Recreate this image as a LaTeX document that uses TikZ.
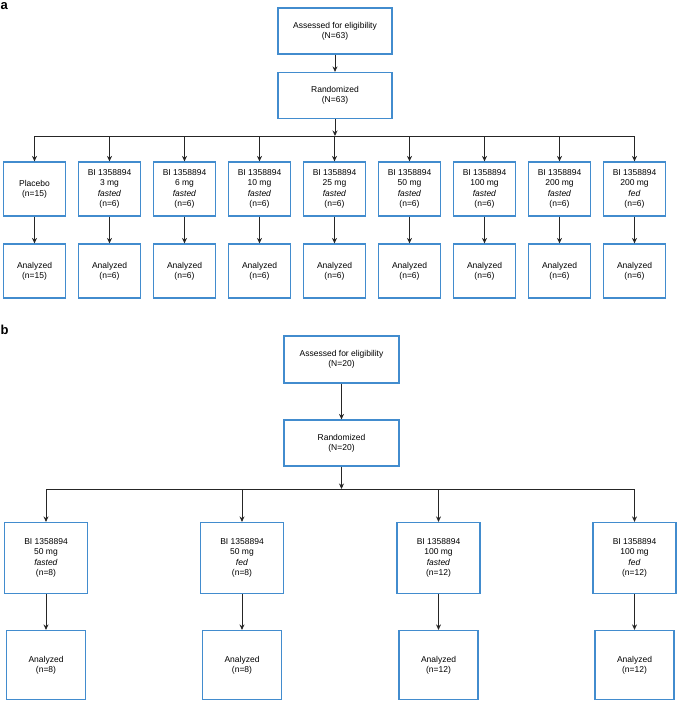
\documentclass[tikz,border=0pt]{standalone}
\usepackage{fontspec}
\setmainfont{Liberation Sans}
\usepackage{tikz}
\usetikzlibrary{arrows.meta,positioning}
\definecolor{boxblue}{RGB}{66,140,206}

\begin{document}
\begin{tikzpicture}[x=1pt, y=-1pt, >={Stealth[length=5.5pt,width=5pt]},
    box/.style={draw=boxblue, line width=1.2pt, align=center, inner sep=1pt,
      font=\fontsize{8.5}{10.3}\selectfont},
    topbox/.style={box, minimum width=114pt, minimum height=46pt},
    armbox/.style={box, minimum width=62pt, minimum height=54pt},
    widebox/.style={box, minimum width=83pt, minimum height=71pt},
    anbox/.style={box, minimum width=79pt, minimum height=69pt},
    link/.style={->, line width=1pt, black!85},
    panel/.style={anchor=north west, inner sep=0pt, font=\bfseries\fontsize{13}{13}\selectfont}]
  \useasboundingbox (0,0) rectangle (677,701);

  % panel a
  \node[panel] (labA) at (0.5,2) {a};
  \node[topbox] (assessA) at (335,31) {Assessed for eligibility\\(N=63)};
  \node[topbox] (randA) at (335,95.5) {Randomized\\(N=63)};
  \coordinate (busA) at (335,136);

  \node[armbox] (armA1) at (34.5,189) {Placebo\\(n=15)};
  \node[armbox] (armA2) at (109.5,189) {BI 1358894\\3 mg\\\textit{fasted}\\(n=6)};
  \node[armbox] (armA3) at (184.5,189) {BI 1358894\\6 mg\\\textit{fasted}\\(n=6)};
  \node[armbox] (armA4) at (259.5,189) {BI 1358894\\10 mg\\\textit{fasted}\\(n=6)};
  \node[armbox] (armA5) at (334.5,189) {BI 1358894\\25 mg\\\textit{fasted}\\(n=6)};
  \node[armbox] (armA6) at (409.5,189) {BI 1358894\\50 mg\\\textit{fasted}\\(n=6)};
  \node[armbox] (armA7) at (484.5,189) {BI 1358894\\100 mg\\\textit{fasted}\\(n=6)};
  \node[armbox] (armA8) at (559.5,189) {BI 1358894\\200 mg\\\textit{fasted}\\(n=6)};
  \node[armbox] (armA9) at (634.5,189) {BI 1358894\\200 mg\\\textit{fed}\\(n=6)};

  \node[armbox] (anA1) at (34.5,271) {Analyzed\\(n=15)};
  \node[armbox] (anA2) at (109.5,271) {Analyzed\\(n=6)};
  \node[armbox] (anA3) at (184.5,271) {Analyzed\\(n=6)};
  \node[armbox] (anA4) at (259.5,271) {Analyzed\\(n=6)};
  \node[armbox] (anA5) at (334.5,271) {Analyzed\\(n=6)};
  \node[armbox] (anA6) at (409.5,271) {Analyzed\\(n=6)};
  \node[armbox] (anA7) at (484.5,271) {Analyzed\\(n=6)};
  \node[armbox] (anA8) at (559.5,271) {Analyzed\\(n=6)};
  \node[armbox] (anA9) at (634.5,271) {Analyzed\\(n=6)};

  \draw[link] (assessA) -- (randA);
  \draw[link] (randA) -- (busA);
  \draw[line width=1pt, black!85] (armA1 |- busA) -- (armA9 |- busA);
  \draw[link] (armA1 |- busA) -- (armA1);
  \draw[link] (armA2 |- busA) -- (armA2);
  \draw[link] (armA3 |- busA) -- (armA3);
  \draw[link] (armA4 |- busA) -- (armA4);
  \draw[link] (armA5 |- busA) -- (armA5);
  \draw[link] (armA6 |- busA) -- (armA6);
  \draw[link] (armA7 |- busA) -- (armA7);
  \draw[link] (armA8 |- busA) -- (armA8);
  \draw[link] (armA9 |- busA) -- (armA9);
  \draw[link] (armA1) -- (anA1);
  \draw[link] (armA2) -- (anA2);
  \draw[link] (armA3) -- (anA3);
  \draw[link] (armA4) -- (anA4);
  \draw[link] (armA5) -- (anA5);
  \draw[link] (armA6) -- (anA6);
  \draw[link] (armA7) -- (anA7);
  \draw[link] (armA8) -- (anA8);
  \draw[link] (armA9) -- (anA9);

  % panel b
  \node[panel] (labB) at (0.5,325) {b};
  \node[topbox, minimum width=115pt, minimum height=47pt] (assessB) at (341.5,359.5) {Assessed for eligibility\\(N=20)};
  \node[topbox, minimum width=115pt] (randB) at (341.5,443) {Randomized\\(N=20)};
  \coordinate (busB) at (341.5,489);

  \node[widebox] (armB1) at (46,558) {BI 1358894\\50 mg\\\textit{fasted}\\(n=8)};
  \node[widebox] (armB2) at (242,558) {BI 1358894\\50 mg\\\textit{fed}\\(n=8)};
  \node[widebox] (armB3) at (438.5,558) {BI 1358894\\100 mg\\\textit{fasted}\\(n=12)};
  \node[widebox] (armB4) at (634.5,558) {BI 1358894\\100 mg\\\textit{fed}\\(n=12)};

  \node[anbox] (anB1) at (46,665) {Analyzed\\(n=8)};
  \node[anbox] (anB2) at (242,665) {Analyzed\\(n=8)};
  \node[anbox] (anB3) at (438.5,665) {Analyzed\\(n=12)};
  \node[anbox] (anB4) at (634.5,665) {Analyzed\\(n=12)};

  \draw[link] (assessB) -- (randB);
  \draw[link] (randB) -- (busB);
  \draw[line width=1pt, black!85] (armB1 |- busB) -- (armB4 |- busB);
  \draw[link] (armB1 |- busB) -- (armB1);
  \draw[link] (armB2 |- busB) -- (armB2);
  \draw[link] (armB3 |- busB) -- (armB3);
  \draw[link] (armB4 |- busB) -- (armB4);
  \draw[link] (armB1) -- (anB1);
  \draw[link] (armB2) -- (anB2);
  \draw[link] (armB3) -- (anB3);
  \draw[link] (armB4) -- (anB4);
\end{tikzpicture}
\end{document}
